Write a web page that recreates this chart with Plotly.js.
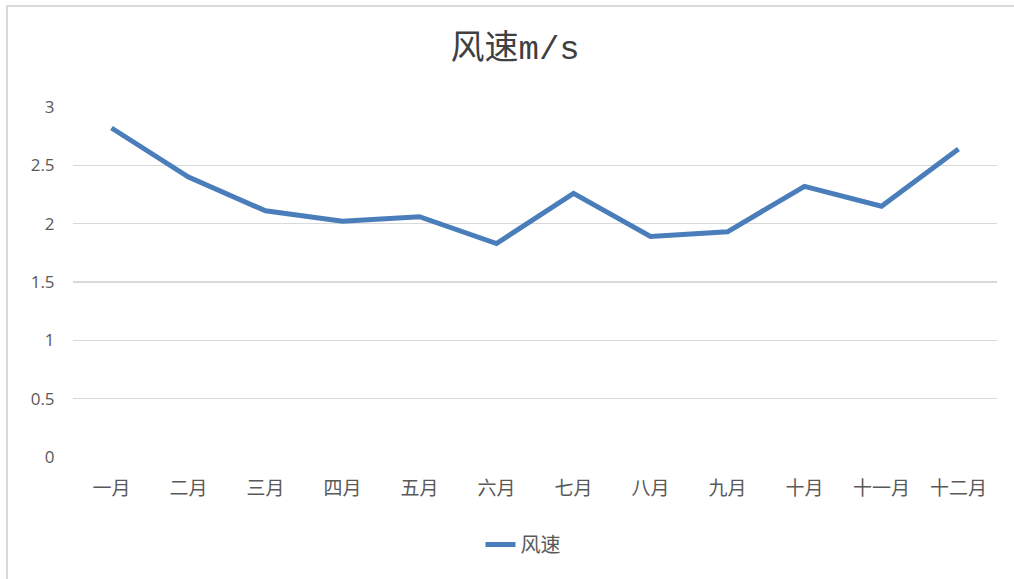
<!DOCTYPE html>
<html>
<head>
<meta charset="utf-8">
<script src="https://cdn.plot.ly/plotly-3.0.1.min.js"></script>
<style>
html,body{margin:0;padding:0;background:#fff;}
#chart{width:1014px;height:579px;position:absolute;left:0;top:0;}
#frame{position:absolute;left:6px;top:5px;width:1020px;height:590px;border-left:2px solid #d9d9d9;border-top:2px solid #d9d9d9;pointer-events:none;}
</style>
</head>
<body>
<div id="chart"></div>
<div id="frame"></div>
<script>
const months = ["一月","二月","三月","四月","五月","六月","七月","八月","九月","十月","十一月","十二月"];
const windSpeed = [2.82, 2.40, 2.11, 2.02, 2.06, 1.83, 2.26, 1.89, 1.93, 2.32, 2.15, 2.64];
const seriesName = "风速";
const chartTitle = "风速m/s";
const yTicks = [0, 0.5, 1, 1.5, 2, 2.5, 3];
const yTickText = ["0", "0.5", "1", "1.5", "2", "2.5", "3"];

const trace = {
  x: months,
  y: windSpeed,
  name: seriesName,
  type: "scatter",
  mode: "lines",
  line: {color: "#4a7ebb", width: 5},
  showlegend: true
};

const layout = {
  width: 1014,
  height: 579,
  paper_bgcolor: "#ffffff",
  plot_bgcolor: "#ffffff",
  margin: {l: 73, r: 17, t: 107, b: 122},
  title: {
    text: chartTitle,
    font: {family: "Liberation Mono, Noto Sans CJK SC, monospace", size: 34, color: "#404040"},
    xref: "container", x: 0.508, xanchor: "center",
    yref: "container", y: 0.918, yanchor: "middle"
  },
  xaxis: {
    type: "category",
    range: [-0.5, months.length - 0.5],
    showgrid: false,
    zeroline: false,
    showline: false,
    ticks: "outside",
    ticklen: 14,
    tickcolor: "rgba(0,0,0,0)",
    tickfont: {family: "Noto Sans CJK SC, sans-serif", size: 19, color: "#595959"},
    fixedrange: true
  },
  yaxis: {
    range: [0, 3],
    tickvals: yTicks,
    ticktext: yTickText,
    showgrid: true,
    gridcolor: "#d9d9d9",
    gridwidth: 1.3,
    zeroline: false,
    showline: false,
    ticks: "outside",
    ticklen: 14,
    tickcolor: "rgba(0,0,0,0)",
    tickfont: {family: "Open Sans, Noto Sans, sans-serif", size: 17, color: "#595959"},
    fixedrange: true
  },
  showlegend: true,
  legend: {
    orientation: "h",
    x: 0.487, xanchor: "center",
    y: -0.25, yanchor: "middle",
    font: {family: "Noto Sans CJK SC, sans-serif", size: 20, color: "#595959"},
    bgcolor: "rgba(0,0,0,0)"
  }
};

Plotly.newPlot("chart", [trace], layout, {displayModeBar: false, staticPlot: true});
</script>
</body>
</html>
